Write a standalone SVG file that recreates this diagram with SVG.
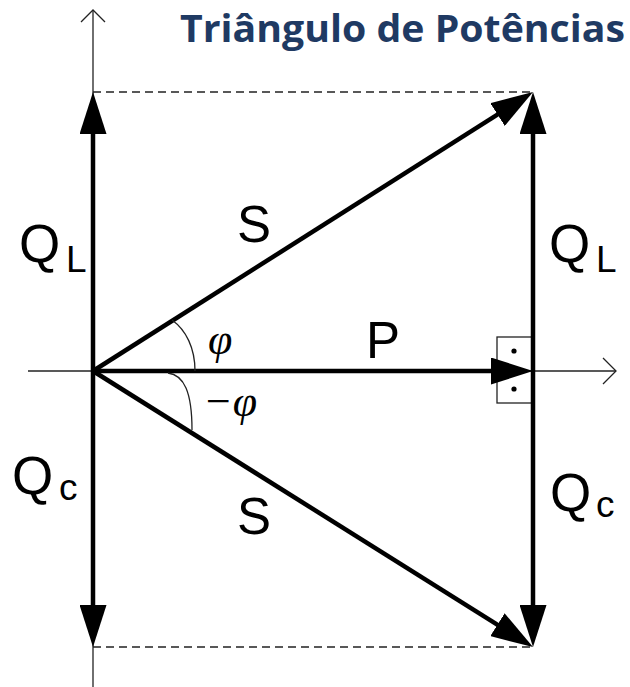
<svg xmlns="http://www.w3.org/2000/svg" width="630" height="687" viewBox="0 0 630 687">
<style>
.thin{stroke:#222;stroke-width:1.3;fill:none}
.dash{stroke:#222;stroke-width:1.5;stroke-dasharray:8,5;fill:none}
.vec{stroke:#000;stroke-width:4.5;fill:none;marker-end:url(#head)}
.lbl{font-family:"Liberation Sans",Arial,sans-serif;fill:#000}
.greek{font-family:"Liberation Serif","Times New Roman",serif;font-style:italic;fill:#000}
</style>
<defs>
<marker id="head" markerUnits="userSpaceOnUse" markerWidth="42" markerHeight="27" refX="32" refY="13.5" orient="auto" viewBox="0 0 42 27">
<path d="M0,0 L42,13.5 L0,27 z" fill="#000"/>
</marker>
</defs>
<rect width="630" height="687" fill="#fff"/>
<text x="625" y="42" text-anchor="end" font-family="'Open Sans',Calibri,sans-serif" font-weight="bold" font-size="37" fill="#1F3A63" textLength="445" lengthAdjust="spacingAndGlyphs">Triângulo de Potências</text>
<g id="axes">
<line class="thin" x1="93" y1="10" x2="93" y2="687"/>
<polyline class="thin" points="81,22 93,10 105,22"/>
<line class="thin" x1="28" y1="371" x2="616" y2="371"/>
<polyline class="thin" points="603,358 616,371 603,384"/>
</g>
<g id="guides">
<line class="dash" x1="93" y1="92" x2="533" y2="92"/>
<line class="dash" x1="93" y1="647" x2="533" y2="647"/>
</g>
<g id="right-angle">
<rect x="497" y="337" width="36" height="66" fill="none" stroke="#222" stroke-width="1.3"/>
<circle cx="514" cy="351" r="2.6" fill="#000"/>
<circle cx="514" cy="389" r="2.6" fill="#000"/>
</g>
<g id="connectors">
<line class="vec" x1="93" y1="371" x2="93" y2="102"/>
<line class="vec" x1="93" y1="371" x2="93" y2="637"/>
<line class="vec" x1="533" y1="371" x2="533" y2="102"/>
<line class="vec" x1="533" y1="371" x2="533" y2="637"/>
<line class="vec" x1="93" y1="371" x2="524.55" y2="97.36"/>
<line class="vec" x1="93" y1="371" x2="524.53" y2="641.69"/>
<line class="vec" x1="93" y1="371" x2="523" y2="371"/>
</g>
<g id="angles">
<path class="thin" d="M195,371 C195,348 186,330 172,320"/>
<path class="thin" d="M168,373 C184,375 192,392 192,430"/>
<text class="greek" x="208" y="354" font-size="44">φ</text>
<text class="greek" x="203" y="416" font-size="44">−φ</text>
</g>
<g id="labels">
<text class="lbl" x="237" y="242" font-size="51">S</text>
<text class="lbl" x="237" y="534" font-size="51">S</text>
<text class="lbl" x="366" y="358" font-size="51">P</text>
<text class="lbl" x="19" y="262" font-size="53">Q</text>
<text class="lbl" x="66" y="272" font-size="37">L</text>
<text class="lbl" x="549" y="262" font-size="53">Q</text>
<text class="lbl" x="596" y="272" font-size="37">L</text>
<text class="lbl" x="12" y="494" font-size="53">Q</text>
<text class="lbl" x="59" y="500" font-size="37">c</text>
<text class="lbl" x="550" y="511" font-size="53">Q</text>
<text class="lbl" x="596" y="517" font-size="37">c</text>
</g>
</svg>
